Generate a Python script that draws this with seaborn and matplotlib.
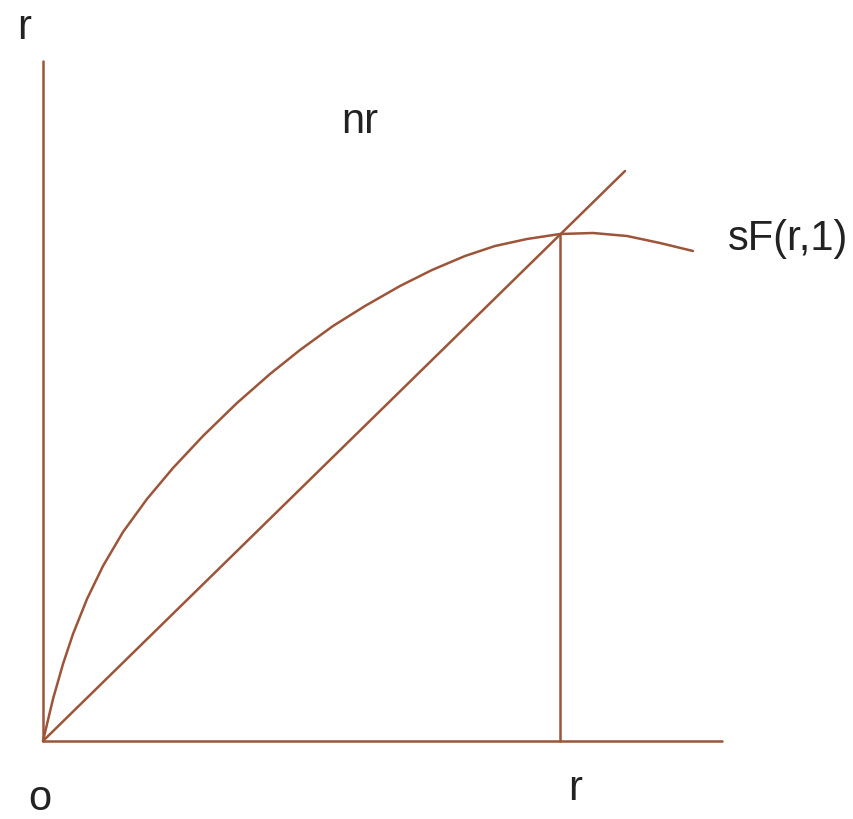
import matplotlib
matplotlib.use("Agg")
import matplotlib.pyplot as plt
import seaborn as sns
import pandas as pd

# sF(r,1) curve
curve_x = [0, 0.10, 0.20, 0.30, 0.44, 0.60, 0.80, 1.04, 1.30, 1.60, 1.94, 2.27, 2.57,
           2.90, 3.22, 3.57, 3.89, 4.22, 4.52, 4.84, 5.17, 5.50, 5.84, 6.17, 6.50]
curve_y = [0, 0.42, 0.77, 1.07, 1.42, 1.75, 2.09, 2.42, 2.73, 3.05, 3.38, 3.67, 3.91,
           4.15, 4.35, 4.55, 4.71, 4.85, 4.95, 5.02, 5.07, 5.08, 5.05, 4.98, 4.90]

# nr ray and the steady-state drop line
ray_x = [0, 5.82]
ray_y = [0, 5.70]
r_star = 5.17
r_star_y = 5.07

# axis extents
x_max = 6.79
y_max = 6.80

color = "#9c5539"
text_color = "#222222"

sns.set_style("white")
plt.rcParams['font.family'] = ['Liberation Sans', 'DejaVu Sans']

fig = plt.figure(figsize=(8.54, 8.2), dpi=100)
ax = fig.add_axes([0, 0, 1, 1])

curve = pd.DataFrame({'x': curve_x, 'y': curve_y})
ray = pd.DataFrame({'x': ray_x, 'y': ray_y})

sns.lineplot(data=curve, x='x', y='y', sort=False, color=color, linewidth=1.8, ax=ax)
sns.lineplot(data=ray, x='x', y='y', sort=False, color=color, linewidth=1.8, ax=ax)

# axes drawn as lines
ax.plot([0, 0], [0, y_max], color=color, linewidth=1.8)
ax.plot([0, x_max], [0, 0], color=color, linewidth=1.8)
ax.plot([r_star, r_star], [0, r_star_y], color=color, linewidth=1.8)

ax.set_xlim(-0.43, 8.11)
ax.set_ylim(-0.78, 7.42)
ax.axis('off')

fs = 30
ax.text(-0.19, 7.03, 'r', fontsize=fs, color=text_color, ha='center', va='baseline')
ax.text(3.17, 6.09, 'nr', fontsize=fs, color=text_color, ha='center', va='baseline')
ax.text(6.85, 4.92, 'sF(r,1)', fontsize=fs, color=text_color, ha='left', va='baseline')
ax.text(-0.03, -0.68, 'o', fontsize=fs, color=text_color, ha='center', va='baseline')
ax.text(5.32, -0.58, 'r', fontsize=fs, color=text_color, ha='center', va='baseline')

plt.savefig('out.png', dpi=100)
